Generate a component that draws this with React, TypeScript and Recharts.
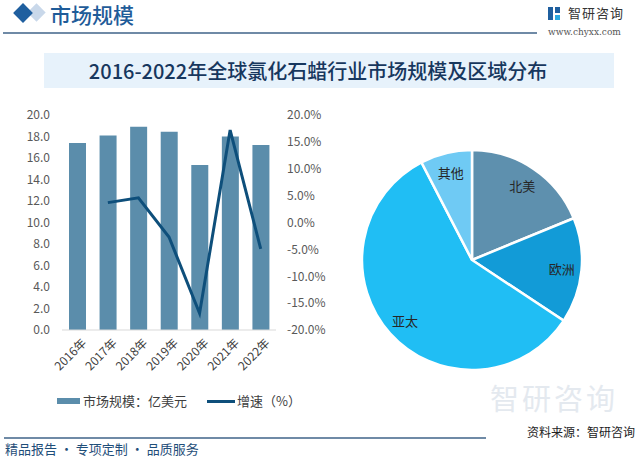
import React from "react";
import { ComposedChart, Bar, Line, XAxis, YAxis, PieChart, Pie, Cell } from "recharts";

const years = ["2016年", "2017年", "2018年", "2019年", "2020年", "2021年", "2022年"];
const marketSize = [17.4, 18.1, 18.9, 18.45, 15.35, 18.0, 17.2];
const growthRate = [null, 3.7, 4.6, -2.7, -16.9, 17.2, -4.9];
const leftTicks = [0, 2, 4, 6, 8, 10, 12, 14, 16, 18, 20];
const rightTicks = [-20, -15, -10, -5, 0, 5, 10, 15, 20];

const regions = ["北美", "欧洲", "亚太", "其他"];
const regionShares = [18.8, 15.5, 58.1, 7.6];
const regionColors = ["#5e90ae", "#129bd7", "#20bef4", "#6fcaf4"];

const barColor = "#5b8dab";
const lineColor = "#0e4f7b";
const font = "'Noto Sans CJK SC', 'Noto Sans', sans-serif";

const trendData = years.map((y, i) => ({ year: y, size: marketSize[i], growth: growthRate[i] }));
const pieData = regions.map((r, i) => ({ region: r, share: regionShares[i] }));

const RAD = Math.PI / 180;

function YearTick(props: any) {
  const { x, y, payload } = props;
  return (
    <text
      transform={`translate(${x + 6},${y + 8}) rotate(-45)`}
      textAnchor="end"
      dominantBaseline="central"
      fontSize={12}
      fill="#404040"
    >
      {payload.value}
    </text>
  );
}

function pieLabel(props: any) {
  const { cx, cy, midAngle, outerRadius, index } = props;
  const r = outerRadius * 0.82;
  const x = cx + r * Math.cos(-midAngle * RAD);
  const y = cy + r * Math.sin(-midAngle * RAD);
  return (
    <text x={x} y={y} textAnchor="middle" dominantBaseline="central" fontSize={13} fill="#262626">
      {regions[index]}
    </text>
  );
}

export default function App() {
  return (
    <div
      style={{
        position: "fixed",
        left: 0,
        top: 0,
        width: 640,
        height: 458,
        background: "#ffffff",
        overflow: "hidden",
        fontFamily: font,
      }}
    >
      {/* header */}
      <div style={{ position: "absolute", left: 30, top: 6, width: 13, height: 13, background: "#c9d8ea", transform: "rotate(45deg)" }} />
      <div style={{ position: "absolute", left: 16, top: 6, width: 14, height: 14, background: "#1f5f9f", transform: "rotate(45deg)" }} />
      <div style={{ position: "absolute", left: 50, top: 2, fontSize: 21, lineHeight: "24px", color: "#1f5c99", fontWeight: 500 }}>
        市场规模
      </div>
      <div style={{ position: "absolute", left: 3, top: 32, width: 534, height: 2, background: "#6f8aa6" }} />
      <div style={{ position: "absolute", left: 548, top: 7, width: 5, height: 13, background: "#1f5f9f" }} />
      <div style={{ position: "absolute", left: 555, top: 7, width: 5, height: 6, background: "#1f5f9f" }} />
      <div style={{ position: "absolute", left: 555, top: 15, width: 5, height: 5, background: "#2aa8e0" }} />
      <div style={{ position: "absolute", left: 568, top: 4, fontSize: 13, lineHeight: "18px", color: "#333", letterSpacing: 1 }}>
        智研咨询
      </div>
      <div style={{ position: "absolute", left: 548, top: 26, fontSize: 9, lineHeight: "12px", color: "#555", fontFamily: "'DejaVu Serif', serif" }}>
        www.chyxx.com
      </div>

      {/* title band */}
      <div
        style={{
          position: "absolute",
          left: 44,
          top: 53,
          width: 570,
          height: 35,
          background: "#e7f2fb",
        }}
      />
      <div
        style={{
          position: "absolute",
          left: 22,
          top: 53,
          width: 592,
          height: 35,
          display: "flex",
          alignItems: "center",
          justifyContent: "center",
          fontSize: 20,
          color: "#17375e",
          fontWeight: 500,
        }}
      >
        2016-2022年全球氯化石蜡行业市场规模及区域分布
      </div>

      {/* faint watermark */}
      <div style={{ position: "absolute", left: 490, top: 382, fontSize: 29, lineHeight: "30px", color: "#e4e9ef", letterSpacing: 3 }}>
        智研咨询
      </div>

      {/* combo chart */}
      <div style={{ position: "absolute", left: 0, top: 0 }}>
        <ComposedChart width={330} height={380} data={trendData} margin={{ top: 115, right: 4, left: 12, bottom: 0 }}>
          <XAxis
            dataKey="year"
            height={50}
            tick={<YearTick />}
            tickLine={false}
            tickSize={0}
            axisLine={{ stroke: "#d9d9d9" }}
            interval={0}
          />
          <YAxis
            yAxisId="left"
            width={50}
            domain={[0, 20]}
            ticks={leftTicks}
            tickFormatter={(v: number) => v.toFixed(1)}
            axisLine={false}
            tickLine={false}
            tickSize={0}
            tickMargin={12}
            tick={{ fontSize: 12, fill: "#595959" }}
          />
          <YAxis
            yAxisId="right"
            orientation="right"
            width={50}
            domain={[-20, 20]}
            ticks={rightTicks}
            tickFormatter={(v: number) => `${v.toFixed(1)}%`}
            axisLine={false}
            tickLine={false}
            tickSize={0}
            tickMargin={11}
            tick={{ fontSize: 12, fill: "#595959" }}
          />
          <Bar yAxisId="left" dataKey="size" barSize={17} fill={barColor} isAnimationActive={false} />
          <Line
            yAxisId="right"
            type="linear"
            dataKey="growth"
            stroke={lineColor}
            strokeWidth={3}
            dot={false}
            isAnimationActive={false}
          />
        </ComposedChart>
      </div>

      {/* legend */}
      <div style={{ position: "absolute", left: 57, top: 398, width: 23, height: 6, background: barColor }} />
      <div style={{ position: "absolute", left: 83, top: 392, fontSize: 13, lineHeight: "18px", color: "#404040" }}>
        市场规模：亿美元
      </div>
      <div style={{ position: "absolute", left: 207, top: 400, width: 28, height: 2.5, background: lineColor }} />
      <div style={{ position: "absolute", left: 237, top: 392, fontSize: 13, lineHeight: "18px", color: "#404040" }}>
        增速（%）
      </div>

      {/* pie chart */}
      <div style={{ position: "absolute", left: 342, top: 130 }}>
        <PieChart width={260} height={260} margin={{ top: 0, right: 0, bottom: 0, left: 0 }}>
          <Pie
            data={pieData}
            dataKey="share"
            nameKey="region"
            cx={130}
            cy={130}
            outerRadius={110}
            startAngle={90}
            endAngle={-270}
            stroke="#ffffff"
            strokeWidth={2.5}
            labelLine={false}
            label={pieLabel}
            isAnimationActive={false}
          >
            {pieData.map((d, i) => (
              <Cell key={d.region} fill={regionColors[i]} />
            ))}
          </Pie>
        </PieChart>
      </div>

      {/* footer */}
      <div style={{ position: "absolute", left: 4, top: 437, width: 482, height: 1.5, background: "#6f8aa6" }} />
      <div style={{ position: "absolute", left: 527, top: 425, fontSize: 12, lineHeight: "14px", color: "#222" }}>
        资料来源：智研咨询
      </div>
      <div style={{ position: "absolute", left: 5, top: 440, fontSize: 13, lineHeight: "17px", color: "#1f4e79" }}>
        精品报告 · 专项定制 · 品质服务
      </div>
    </div>
  );
}
